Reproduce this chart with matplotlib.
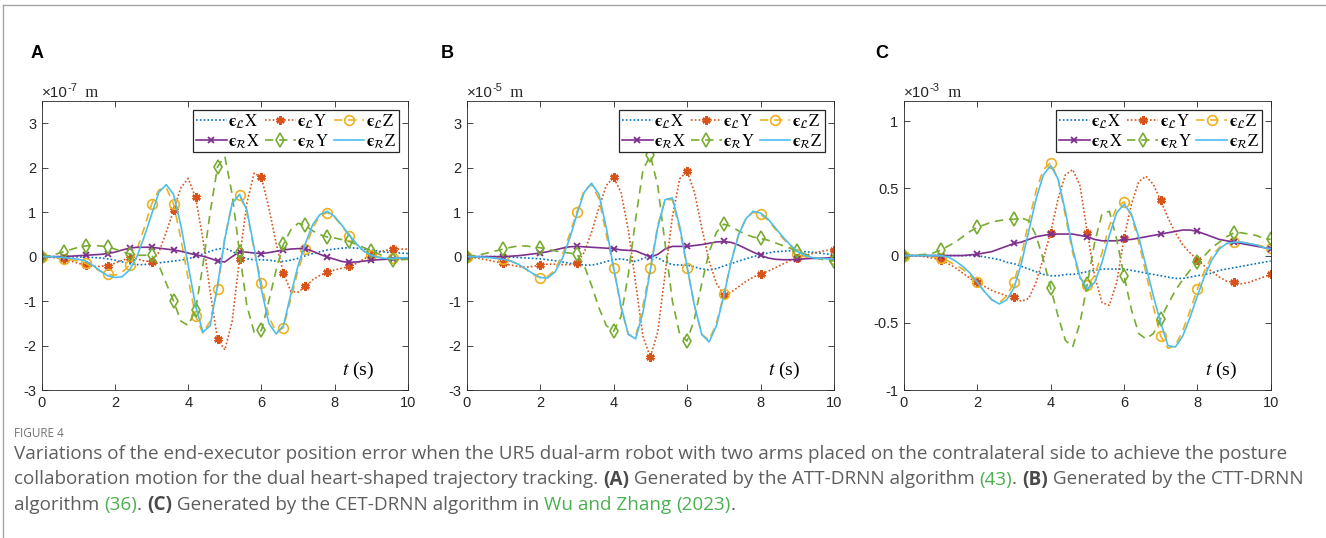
import matplotlib
matplotlib.use('Agg')
import matplotlib.pyplot as plt
import numpy as np
from matplotlib.lines import Line2D

# time axis shared by all panels (s)
t = np.round(np.arange(0, 10.01, 0.2), 1)

# Panel A: ATT-DRNN, units of 1e-7 m
lx_a = [0, 0, 0, 0, -0.005, -0.005, -0.01, -0.02, -0.03, -0.05,
        -0.08, -0.12, -0.16, -0.18, -0.18, -0.16, -0.14, -0.12, -0.10, -0.08,
        -0.05, 0.0, 0.06, 0.12, 0.17, 0.19, 0.12, 0.02, -0.05, -0.07,
        -0.07, -0.08, -0.10, -0.11, -0.08, -0.04, 0.02, 0.07, 0.11, 0.15,
        0.17, 0.19, 0.20, 0.19, 0.17, 0.15, 0.12, 0.10, 0.09, 0.08,
        0.07]
ly_a = [0, -0.01, -0.03, -0.06, -0.10, -0.15, -0.19, -0.22, -0.22, -0.20,
        -0.15, -0.08, -0.04, -0.05, -0.10, -0.11, 0.10, 0.55, 1.04, 1.55,
        1.76, 1.33, 0.40, -0.80, -1.85, -2.10, -1.45, -0.05, 1.20, 1.88,
        1.78, 1.10, 0.30, -0.37, -0.78, -0.80, -0.67, -0.52, -0.42, -0.35,
        -0.30, -0.26, -0.22, -0.15, -0.05, 0.04, 0.10, 0.14, 0.17, 0.17,
        0.17]
lz_a = [0, 0, -0.02, -0.05, -0.07, -0.10, -0.15, -0.24, -0.33, -0.40,
        -0.42, -0.35, -0.19, 0.15, 0.65, 1.18, 1.50, 1.55, 1.18, 0.40,
        -0.50, -1.33, -1.72, -1.45, -0.72, 0.45, 1.20, 1.39, 1.00, 0.15,
        -0.60, -1.35, -1.70, -1.60, -0.95, -0.30, 0.18, 0.65, 0.92, 0.99,
        0.88, 0.68, 0.47, 0.27, 0.12, 0.04, -0.01, -0.03, -0.04, -0.04,
        -0.04]
rx_a = [0, 0, 0, 0, 0.01, 0.02, 0.03, 0.04, 0.05, 0.07,
        0.10, 0.15, 0.19, 0.21, 0.21, 0.21, 0.19, 0.17, 0.15, 0.12,
        0.08, 0.04, 0.01, -0.04, -0.10, -0.12, 0.00, 0.11, 0.10, 0.08,
        0.07, 0.09, 0.12, 0.15, 0.17, 0.18, 0.18, 0.12, 0.05, -0.01,
        -0.06, -0.11, -0.13, -0.12, -0.10, -0.08, -0.07, -0.06, -0.05, -0.04,
        -0.03]
ry_a = [0, 0.02, 0.06, 0.11, 0.16, 0.21, 0.24, 0.25, 0.24, 0.22,
        0.17, 0.11, 0.06, 0.03, 0.03, 0.03, -0.20, -0.60, -1.00, -1.45,
        -1.55, -1.20, -0.20, 1.00, 2.02, 2.25, 1.40, 0.10, -1.10, -1.70,
        -1.66, -1.00, -0.30, 0.28, 0.60, 0.75, 0.70, 0.58, 0.49, 0.44,
        0.42, 0.38, 0.34, 0.27, 0.20, 0.13, 0.06, -0.01, -0.07, -0.07,
        -0.06]
rz_a = [0, 0, -0.01, -0.02, -0.04, -0.06, -0.10, -0.20, -0.32, -0.43,
        -0.47, -0.45, -0.30, 0.0, 0.45, 0.95, 1.45, 1.62, 1.40, 0.70,
        -0.20, -1.10, -1.70, -1.55, -0.65, 0.40, 1.20, 1.40, 1.05, 0.20,
        -0.75, -1.50, -1.74, -1.55, -0.85, -0.20, 0.30, 0.72, 0.95, 1.02,
        0.90, 0.70, 0.48, 0.28, 0.12, 0.03, -0.02, -0.04, -0.04, -0.03,
        -0.02]

# Panel B: CTT-DRNN, units of 1e-5 m
lx_b = [0, 0, 0, 0, 0, -0.01, -0.01, -0.02, -0.03, -0.04,
        -0.05, -0.07, -0.09, -0.12, -0.15, -0.17, -0.19, -0.19, -0.16, -0.11,
        -0.07, -0.05, -0.08, -0.11, -0.04, 0.02, -0.03, -0.12, -0.18, -0.19,
        -0.19, -0.23, -0.28, -0.30, -0.27, -0.21, -0.16, -0.10, -0.05, 0.00,
        0.04, 0.08, 0.11, 0.12, 0.13, 0.12, 0.11, 0.10, 0.08, 0.06,
        0.05]
ly_b = [0, -0.02, -0.05, -0.08, -0.12, -0.15, -0.19, -0.22, -0.24, -0.22,
        -0.19, -0.17, -0.17, -0.18, -0.18, -0.15, 0.10, 0.55, 1.10, 1.60,
        1.78, 1.45, 0.60, -0.60, -1.80, -2.26, -1.70, -0.40, 0.90, 1.75,
        1.92, 1.45, 0.65, -0.10, -0.60, -0.86, -0.80, -0.68, -0.56, -0.46,
        -0.39, -0.33, -0.25, -0.17, -0.09, -0.04, 0.02, 0.07, 0.11, 0.14,
        0.16]
lz_b = [0, 0, -0.01, -0.02, -0.03, -0.05, -0.10, -0.17, -0.28, -0.40,
        -0.47, -0.45, -0.30, 0.02, 0.50, 1.00, 1.50, 1.62, 1.30, 0.50,
        -0.25, -1.15, -1.75, -1.80, -1.10, -0.25, 0.70, 1.28, 1.28, 0.60,
        -0.25, -1.10, -1.75, -1.88, -1.50, -0.85, -0.10, 0.50, 0.85, 1.00,
        0.95, 0.82, 0.62, 0.42, 0.25, 0.06, 0.00, -0.03, -0.04, -0.05,
        -0.05]
rx_b = [0, 0, 0, 0, 0, 0, 0.01, 0.02, 0.04, 0.06,
        0.08, 0.11, 0.15, 0.19, 0.22, 0.23, 0.22, 0.21, 0.20, 0.19,
        0.18, 0.15, 0.14, 0.13, 0.06, -0.01, 0.05, 0.17, 0.23, 0.23,
        0.23, 0.25, 0.27, 0.30, 0.33, 0.34, 0.32, 0.26, 0.18, 0.10,
        0.03, -0.03, -0.06, -0.07, -0.07, -0.06, -0.05, -0.04, -0.04, -0.03,
        -0.03]
ry_b = [0, 0.02, 0.05, 0.09, 0.13, 0.17, 0.21, 0.24, 0.24, 0.22,
        0.20, 0.17, 0.13, 0.10, 0.08, 0.06, -0.20, -0.65, -1.15, -1.55,
        -1.68, -1.35, -0.40, 0.85, 1.95, 2.28, 1.60, 0.30, -1.00, -1.75,
        -1.90, -1.40, -0.60, 0.10, 0.55, 0.73, 0.68, 0.58, 0.50, 0.44,
        0.41, 0.37, 0.31, 0.25, 0.19, 0.13, 0.06, 0.00, -0.05, -0.08,
        -0.10]
rz_b = [0, 0, -0.01, -0.02, -0.04, -0.06, -0.10, -0.17, -0.27, -0.38,
        -0.47, -0.48, -0.35, -0.05, 0.40, 0.95, 1.45, 1.65, 1.40, 0.65,
        -0.25, -1.10, -1.75, -1.85, -1.25, -0.30, 0.65, 1.28, 1.32, 0.68,
        -0.22, -1.10, -1.75, -1.92, -1.55, -0.88, -0.12, 0.48, 0.85, 1.02,
        0.98, 0.85, 0.65, 0.45, 0.27, 0.12, 0.03, -0.02, -0.04, -0.05,
        -0.05]

# Panel C: CET-DRNN, units of 1e-3 m
lx_c = [0, 0, 0, 0, 0, 0, 0, 0, 0, 0,
        0, -0.01, -0.02, -0.03, -0.05, -0.06, -0.08, -0.10, -0.12, -0.14,
        -0.15, -0.15, -0.14, -0.14, -0.13, -0.12, -0.11, -0.10, -0.10, -0.10,
        -0.10, -0.11, -0.12, -0.13, -0.14, -0.15, -0.16, -0.17, -0.17, -0.16,
        -0.15, -0.14, -0.13, -0.11, -0.10, -0.09, -0.08, -0.07, -0.06, -0.05,
        -0.04]
ly_c = [0, 0, 0, -0.01, -0.02, -0.03, -0.06, -0.09, -0.13, -0.17,
        -0.20, -0.23, -0.26, -0.28, -0.30, -0.31, -0.34, -0.32, -0.20, -0.02,
        0.17, 0.42, 0.60, 0.64, 0.52, 0.17, -0.15, -0.35, -0.37, -0.20,
        0.13, 0.38, 0.55, 0.59, 0.53, 0.41, 0.28, 0.17, 0.08, 0.02,
        -0.03, -0.08, -0.12, -0.16, -0.19, -0.20, -0.21, -0.20, -0.18, -0.16,
        -0.14]
lz_c = [0, 0, 0, 0, -0.01, -0.02, -0.04, -0.07, -0.10, -0.15,
        -0.20, -0.27, -0.33, -0.35, -0.30, -0.20, 0.00, 0.25, 0.48, 0.64,
        0.69, 0.57, 0.30, 0.02, -0.17, -0.22, -0.15, 0.02, 0.22, 0.36,
        0.40, 0.30, 0.10, -0.13, -0.38, -0.60, -0.69, -0.67, -0.56, -0.41,
        -0.25, -0.11, 0.00, 0.06, 0.09, 0.10, 0.10, 0.09, 0.08, 0.07,
        0.06]
rx_c = [0, 0, 0, 0, 0, 0, 0, 0, 0, 0.005,
        0.01, 0.02, 0.03, 0.05, 0.07, 0.09, 0.10, 0.12, 0.14, 0.15,
        0.16, 0.16, 0.16, 0.16, 0.15, 0.14, 0.12, 0.11, 0.11, 0.11,
        0.12, 0.12, 0.13, 0.14, 0.15, 0.16, 0.17, 0.18, 0.19, 0.19,
        0.18, 0.16, 0.14, 0.12, 0.11, 0.10, 0.09, 0.08, 0.07, 0.06,
        0.05]
ry_c = [0, 0, 0.005, 0.01, 0.02, 0.04, 0.07, 0.10, 0.14, 0.18,
        0.21, 0.23, 0.25, 0.26, 0.27, 0.27, 0.28, 0.26, 0.15, -0.03,
        -0.24, -0.45, -0.63, -0.68, -0.50, -0.21, 0.10, 0.31, 0.33, 0.12,
        -0.15, -0.40, -0.58, -0.62, -0.58, -0.47, -0.36, -0.26, -0.18, -0.11,
        -0.05, 0.00, 0.06, 0.10, 0.14, 0.17, 0.17, 0.16, 0.15, 0.13,
        0.12]
rz_c = [0, 0, 0, 0, 0, 0, -0.01, -0.04, -0.08, -0.13,
        -0.20, -0.27, -0.33, -0.36, -0.33, -0.24, -0.06, 0.18, 0.42, 0.60,
        0.67, 0.57, 0.33, 0.05, -0.16, -0.25, -0.20, -0.05, 0.15, 0.32,
        0.38, 0.31, 0.14, -0.08, -0.30, -0.50, -0.67, -0.68, -0.60, -0.46,
        -0.30, -0.15, -0.03, 0.05, 0.09, 0.10, 0.10, 0.09, 0.08, 0.06,
        0.05]

panel_letters = ['A', 'B', 'C']
exponents = ['-7', '-5', '-3']
ylims = [(-3, 3.5), (-3, 3.5), (-1, 1.15)]
yticks = [[-3, -2, -1, 0, 1, 2, 3], [-3, -2, -1, 0, 1, 2, 3], [-1, -0.5, 0, 0.5, 1]]
yticklabels = [['-3', '-2', '-1', '0', '1', '2', '3'],
               ['-3', '-2', '-1', '0', '1', '2', '3'],
               ['-1', '-0.5', '0', '0.5', '1']]
xticks = [0, 2, 4, 6, 8, 10]
marker_step = [3, 5, 5]

labels = [r'$\mathbf{\u03f5}_{\mathcal{L}}\mathrm{X}$', r'$\mathbf{\u03f5}_{\mathcal{L}}\mathrm{Y}$',
          r'$\mathbf{\u03f5}_{\mathcal{L}}\mathrm{Z}$', r'$\mathbf{\u03f5}_{\mathcal{R}}\mathrm{X}$',
          r'$\mathbf{\u03f5}_{\mathcal{R}}\mathrm{Y}$', r'$\mathbf{\u03f5}_{\mathcal{R}}\mathrm{Z}$']
labels = [s.replace('\\u03f5', '\u03f5') for s in labels]

caption_title = 'FIGURE 4'
caption_lines = [
    [('Variations of the end-executor position error when the UR5 dual-arm robot with two arms '
      'placed on the contralateral side to achieve the posture', 'text')],
    [('collaboration motion for the dual heart-shaped trajectory tracking. ', 'text'), ('(A)', 'bold'),
     (' Generated by the ATT-DRNN algorithm ', 'text'), ('(43)', 'link'), ('. ', 'text'),
     ('(B)', 'bold'), (' Generated by the CTT-DRNN', 'text')],
    [('algorithm ', 'text'), ('(36)', 'link'), ('. ', 'text'), ('(C)', 'bold'),
     (' Generated by the CET-DRNN algorithm in ', 'text'), ('Wu and Zhang', 'link'), (' ', 'text'),
     ('(2023)', 'link'), ('.', 'text')],
]

W, H = 1326, 538
SANS = 'Liberation Sans'
SERIF = 'Liberation Serif'

# MATLAB default colour order
STYLES = [
    dict(color='#0072BD', ls=(0, (1, 1.3)), marker=None),
    dict(color='#D95319', ls=(0, (1, 1.3)), marker=(6, 2, 0), ms=6, mew=1.8, mfc='#D95319'),
    dict(color='#EDB120', ls=(0, (5, 3.5)), marker='o', ms=7, mew=1.2, mfc='none'),
    dict(color='#7E2F8E', ls='-', marker='x', ms=5, mew=1.3),
    dict(color='#77AC30', ls=(0, (5, 3.5)), marker='d', ms=7.5, mew=1.2, mfc='none'),
    dict(color='#4DBEEE', ls='-', marker=None),
]

# axes boxes in pixels: left, top, right, bottom
AXES_PX = [(41.7, 101, 408, 390), (466.7, 101, 834, 390), (904, 101, 1270.7, 390)]


def px_rect(left, top, right, bottom):
    return [left / W, 1 - bottom / H, (right - left) / W, (bottom - top) / H]


def draw_runs(fig, renderer, x, y, runs):
    """Draw text pieces one after the other, starting at pixel (x, y baseline)."""
    for text, props, dy in runs:
        txt = fig.text(x / W, 1 - (y - dy) / H, text, va='baseline', ha='left', **props)
        x += txt.get_window_extent(renderer).width
    return x


def plot_panel(ax, series, step, ylim, ticks, ticklabels):
    lines = []
    for y, lab, st in zip(series, labels, STYLES):
        kw = dict(color=st['color'], ls=st['ls'], lw=1.2, label=lab)
        if st['marker'] is not None:
            kw.update(marker=st['marker'], ms=st['ms'], mew=st['mew'],
                      mfc=st.get('mfc', st['color']), markevery=step)
        ln, = ax.plot(t, y, **kw)
        lines.append(ln)

    ax.set_xlim(0, 10)
    ax.set_ylim(*ylim)
    ax.set_xticks(xticks)
    ax.set_yticks(ticks)
    ax.set_yticklabels(ticklabels)
    ax.tick_params(direction='in', top=True, right=True, length=4, width=0.6,
                   labelsize=10.5, colors='#262626', pad=4)
    for lab in ax.get_xticklabels() + ax.get_yticklabels():
        lab.set_fontfamily(SANS)
    for sp in ax.spines.values():
        sp.set_color('#262626')
        sp.set_linewidth(0.6)

    # row-major ordering for the 3-column legend
    order = [0, 3, 1, 4, 2, 5]
    leg = ax.legend([lines[i] for i in order], [labels[i] for i in order], ncol=3,
                    loc='upper right', bbox_to_anchor=(0.975, 0.969),
                    prop={'family': SERIF, 'size': 12}, handlelength=1.85,
                    handletextpad=0.1, columnspacing=0.25, labelspacing=0.12,
                    borderpad=0.15, borderaxespad=0, fancybox=False, framealpha=1)
    leg.get_frame().set_edgecolor('#262626')
    leg.get_frame().set_linewidth(0.9)

    ax.text(0.82, 0.052, r'$t$ (s)', transform=ax.transAxes, fontsize=14,
            family=SERIF, ha='left', va='baseline')


def main():
    plt.rcParams['mathtext.fontset'] = 'stix'
    plt.rcParams['axes.unicode_minus'] = False

    fig = plt.figure(figsize=(W / 100, H / 100), dpi=100)
    fig.patch.set_facecolor('white')
    renderer = fig.canvas.get_renderer()

    all_series = [[lx_a, ly_a, lz_a, rx_a, ry_a, rz_a],
                  [lx_b, ly_b, lz_b, rx_b, ry_b, rz_b],
                  [lx_c, ly_c, lz_c, rx_c, ry_c, rz_c]]
    letter_x = [31, 441, 875]

    for i in range(3):
        ax = fig.add_axes(px_rect(*AXES_PX[i]))
        plot_panel(ax, all_series[i], marker_step[i], ylims[i], yticks[i], yticklabels[i])

        # panel letter
        fig.text(letter_x[i] / W, 1 - 58 / H, panel_letters[i], fontsize=13,
                 fontweight='bold', family=SANS, va='baseline')

        # exponent label above the axes
        sans = dict(fontsize=11, family=SANS, color='#262626')
        sup = dict(fontsize=8, family=SANS, color='#262626')
        serif = dict(fontsize=12, family=SERIF, color='#262626')
        draw_runs(fig, renderer, AXES_PX[i][0], 97,
                  [('\u00d710', sans, 0), (exponents[i], sup, 6), ('  m', serif, 0)])

    # outer frame of the figure block
    fig.add_artist(Line2D([3 / W, 3 / W], [0, 1 - 5 / H], color='#a6a6a6', lw=1.0))
    fig.add_artist(Line2D([3 / W, 1], [1 - 5 / H, 1 - 5 / H], color='#a6a6a6', lw=1.0))

    # caption
    cap_font = 'Open Sans'
    probe = fig.text(0, 0, caption_lines[0][0][0], fontsize=10, family=cap_font)
    size = 10 * 1277 / probe.get_window_extent(renderer).width
    probe.remove()

    fig.text(14 / W, 1 - 437 / H, caption_title, fontsize=8.5, family=cap_font,
             color='#737373', va='baseline')
    kinds = {
        'text': dict(fontsize=size, family=cap_font, color='#5e5e5e'),
        'bold': dict(fontsize=size, family=cap_font, color='#4a4a4a', fontweight='bold'),
        'link': dict(fontsize=size, family=cap_font, color='#4caf50'),
    }
    for row, line in enumerate(caption_lines):
        draw_runs(fig, renderer, 14, 459 + row * 25.5,
                  [(text, kinds[k], 0) for text, k in line])

    fig.savefig('out.png', dpi=100)
    plt.close(fig)


if __name__ == "__main__":
    main()
